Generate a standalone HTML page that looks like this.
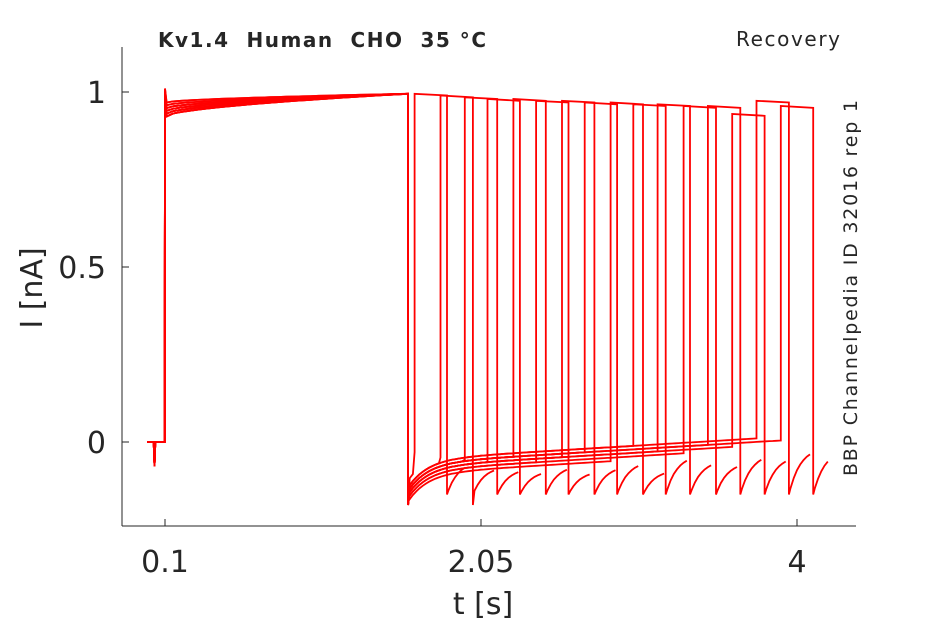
<!DOCTYPE html>
<html><head><meta charset="utf-8"><style>
body{margin:0;background:#fff;width:945px;height:624px;overflow:hidden}
svg text{font-family:"Liberation Sans","DejaVu Sans",sans-serif;fill:#262626}
</style></head><body>
<svg id="chart" width="945" height="624" viewBox="0 0 945 624" xmlns="http://www.w3.org/2000/svg">
<g id="plot"></g>
<line x1="122" y1="526" x2="856" y2="526" stroke="#262626" stroke-width="1"/>
<line x1="122" y1="47" x2="122" y2="526" stroke="#262626" stroke-width="1"/>
<g id="ticks"></g>
<text x="158" y="47" font-size="20" font-weight="bold" textLength="328" lengthAdjust="spacing" xml:space="preserve" style="font-family:'DejaVu Sans',sans-serif;white-space:pre">Kv1.4  Human  CHO  35 °C</text>
<text x="736" y="46" font-size="20" textLength="104" style="font-family:'DejaVu Sans',sans-serif">Recovery</text>
<text transform="translate(857,476) rotate(-90)" font-size="19" textLength="376" style="font-family:'DejaVu Sans',sans-serif">BBP Channelpedia ID 32016 rep 1</text>
<text x="483" y="614" font-size="30" text-anchor="middle" style="font-family:'DejaVu Sans',sans-serif">t [s]</text>
<text transform="translate(42,288) rotate(-90)" font-size="30" text-anchor="middle" style="font-family:'DejaVu Sans',sans-serif">I [nA]</text>
</svg>
<script>
const xTicks=[0.1,2.05,4];
const xTickLabels=["0.1","2.05","4"];
const yTicks=[0,0.5,1];
const yTickLabels=["0","0.5","1"];
const pulseStart=[1.64,1.80,1.95,2.09,2.25,2.39,2.55,2.69,2.85,2.99,3.14,3.30,3.45,3.60,3.75,3.90];
const pulseLevel=[0.995,0.99,0.985,0.98,0.98,0.975,0.975,0.97,0.97,0.965,0.965,0.96,0.96,0.937,0.975,0.96];
const baseOffset=[-0.03,-0.05,-0.06,-0.07,-0.06,-0.08,-0.07,-0.06,-0.09,-0.05,-0.07,-0.08,-0.06,-0.07,-0.05,-0.06];
const firstPulseEnd=1.6, pulseDur=0.2, recoverDip=-0.15;
const X=t=>165+(t-0.1)*162.05;
const Y=v=>442-v*350;
const NS="http://www.w3.org/2000/svg";
const plot=document.getElementById('plot');
function addLine(pts,name){
  const p=document.createElementNS(NS,'polyline');
  
  
  p.setAttribute('points',pts.map(a=>X(a[0]).toFixed(1)+','+Y(a[1]).toFixed(1)).join(' '));
  p.setAttribute('fill','none');p.setAttribute('stroke','#ff0000');p.setAttribute('stroke-width','1.8');
  plot.appendChild(p);
}
pulseStart.forEach((s,i)=>{
  const lvl0=0.93+0.008*(i%6);
  const pts=[[-0.01,0],[0.03,0],[0.035,-0.07],[0.04,0],[0.098,0],[0.1,lvl0+0.04],[0.11,lvl0]];
  for(let t=0.15;t<=firstPulseEnd;t+=0.05){pts.push([t,lvl0+(0.995-lvl0)*Math.pow((t-0.1)/1.5,0.6)]);}
  pts.push([firstPulseEnd,0.995]);
  const base=t=>baseOffset[i]+0.07*(t-firstPulseEnd)/2.5;
  pts.push([firstPulseEnd,-0.18+0.02*(i%3)]);
  for(let t=firstPulseEnd+0.01;t<s;t+=0.02){pts.push([t,base(t)-0.08*Math.exp(-(t-firstPulseEnd)/0.12)]);}
  pts.push([s,base(s)]);pts.push([s,pulseLevel[i]]);
  const e=s+pulseDur;
  pts.push([e,pulseLevel[i]-0.005]);pts.push([e,recoverDip-0.03*(i===1?1:0)]);
  const end=(i===pulseStart.length-1)?e+0.1:e+0.13;
  const bEnd=base(e)-0.03;
  for(let t=e+0.01;t<=end;t+=0.02){pts.push([t,bEnd+(recoverDip-bEnd)*Math.exp(-(t-e)/0.07)]);}
  addLine(pts,'trace-'+(i+1));
});
const tk=document.getElementById('ticks');
xTicks.forEach((v,i)=>{
  const l=document.createElementNS(NS,'line');
  
  l.setAttribute('x1',X(v));l.setAttribute('x2',X(v));l.setAttribute('y1',526);l.setAttribute('y2',519);l.setAttribute('stroke','#262626');
  tk.appendChild(l);
  const t=document.createElementNS(NS,'text');
  
  t.setAttribute('x',X(v));t.setAttribute('y',572);t.setAttribute('font-size','30');t.setAttribute('text-anchor','middle');
  t.setAttribute('style',"font-family:'DejaVu Sans',sans-serif");
  t.textContent=xTickLabels[i];tk.appendChild(t);
});
yTicks.forEach((v,i)=>{
  const l=document.createElementNS(NS,'line');
  
  l.setAttribute('x1',122);l.setAttribute('x2',129);l.setAttribute('y1',Y(v));l.setAttribute('y2',Y(v));l.setAttribute('stroke','#262626');
  tk.appendChild(l);
  const t=document.createElementNS(NS,'text');
  
  t.setAttribute('x',106);t.setAttribute('y',Y(v)+11);t.setAttribute('font-size','30');t.setAttribute('text-anchor','end');
  t.setAttribute('style',"font-family:'DejaVu Sans',sans-serif");
  t.textContent=yTickLabels[i];tk.appendChild(t);
});
</script>
</body></html>
